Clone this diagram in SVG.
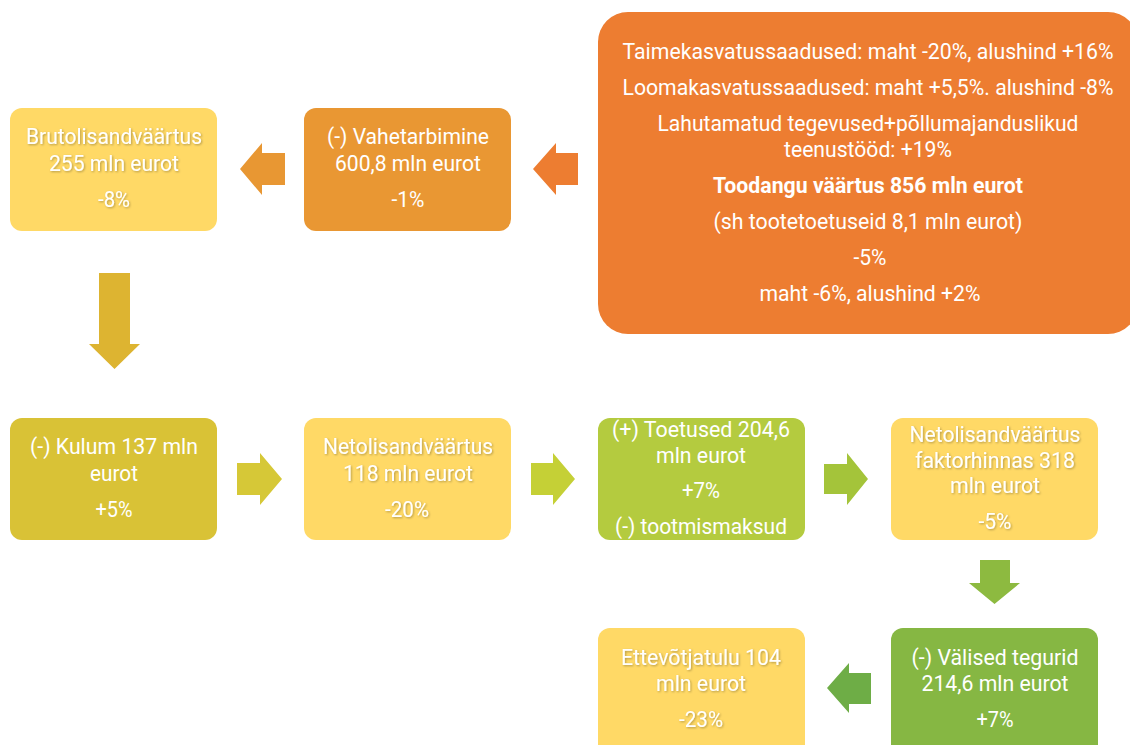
<svg xmlns="http://www.w3.org/2000/svg" width="1130" height="745" viewBox="0 0 1130 745">
<defs>
<filter id="sh" x="-10%" y="-10%" width="120%" height="130%">
<feDropShadow dx="1" dy="1" stdDeviation="0.8" flood-color="#000" flood-opacity="0.3"/>
</filter>
</defs>
<style>
text{font-family:Roboto,"Liberation Sans",sans-serif;font-size:22px;fill:#fff;text-anchor:middle;font-weight:400}
.b{font-weight:700}
.lt text{filter:url(#sh)}
.yl{fill:#FFD966}
</style>
<rect width="1130" height="745" fill="#fff"/>
<g id="connectors">
<polygon points="240,169 262,143 262,153 285,153 285,185 262,185 262,195" fill="#E89733"/>
<polygon points="533,169 556,143 556,153 578,153 578,185 556,185 556,195" fill="#ED7D31"/>
<polygon points="99,273 130,273 130,344 140,344 114.5,369 89,344 99,344" fill="#DDB431"/>
<polygon points="237,463 260,463 260,453 282,479 260,505 260,495 237,495" fill="#D6C837"/>
<polygon points="531,463 553,463 553,453 575,479 553,505 553,495 531,495" fill="#C5D036"/>
<polygon points="824,464 847,464 847,453 868,479 847,505 847,494 824,494" fill="#A4C43A"/>
<polygon points="980,560 1010,560 1010,583 1020,583 994.5,604 969,583 980,583" fill="#8DBA40"/>
<polygon points="827,688 849,663 849,673 871,673 871,704 849,704 849,713" fill="#6EAD46"/>
</g>
<g id="brutolisandvaartus" class="lt">
<rect x="10" y="108" width="207" height="123" rx="12" class="yl"/>
<text x="114" y="144" textLength="176" lengthAdjust="spacingAndGlyphs">Brutolisandväärtus</text>
<text x="114" y="171" textLength="130" lengthAdjust="spacingAndGlyphs">255 mln eurot</text>
<text x="114" y="207" textLength="32" lengthAdjust="spacingAndGlyphs">-8%</text>
</g>
<g id="vahetarbimine">
<rect x="304" y="108" width="207" height="123" rx="12" fill="#E99733"/>
<text x="408" y="144" textLength="162" lengthAdjust="spacingAndGlyphs">(-) Vahetarbimine</text>
<text x="408" y="171" textLength="146" lengthAdjust="spacingAndGlyphs">600,8 mln eurot</text>
<text x="408" y="207" textLength="33" lengthAdjust="spacingAndGlyphs">-1%</text>
</g>
<g id="toodangu">
<rect x="598" y="12" width="540" height="322" rx="30" fill="#ED7D31"/>
<text x="868" y="59" textLength="491" lengthAdjust="spacingAndGlyphs">Taimekasvatussaadused: maht -20%, alushind +16%</text>
<text x="868" y="95" textLength="491" lengthAdjust="spacingAndGlyphs">Loomakasvatussaadused: maht +5,5%. alushind -8%</text>
<text x="868" y="131" textLength="421" lengthAdjust="spacingAndGlyphs">Lahutamatud tegevused+põllumajanduslikud</text>
<text x="868" y="157" textLength="168" lengthAdjust="spacingAndGlyphs">teenustööd: +19%</text>
<text x="868" y="193" class="b" textLength="310" lengthAdjust="spacingAndGlyphs">Toodangu väärtus 856 mln eurot</text>
<text x="868" y="229" textLength="309" lengthAdjust="spacingAndGlyphs">(sh tootetoetuseid 8,1 mln eurot)</text>
<text x="870" y="265" textLength="33" lengthAdjust="spacingAndGlyphs">-5%</text>
<text x="870" y="301" textLength="221" lengthAdjust="spacingAndGlyphs">maht -6%, alushind +2%</text>
</g>
<g id="kulum">
<rect x="10" y="418" width="207" height="122" rx="12" fill="#D9C236"/>
<text x="114" y="454" textLength="168" lengthAdjust="spacingAndGlyphs">(-) Kulum 137 mln</text>
<text x="114" y="481" textLength="48" lengthAdjust="spacingAndGlyphs">eurot</text>
<text x="114" y="517" textLength="37" lengthAdjust="spacingAndGlyphs">+5%</text>
</g>
<g id="netolisandvaartus" class="lt">
<rect x="304" y="418" width="207" height="122" rx="12" class="yl"/>
<text x="408" y="454" textLength="170" lengthAdjust="spacingAndGlyphs">Netolisandväärtus</text>
<text x="408" y="481" textLength="130" lengthAdjust="spacingAndGlyphs">118 mln eurot</text>
<text x="407" y="517" textLength="44" lengthAdjust="spacingAndGlyphs">-20%</text>
</g>
<g id="toetused">
<rect x="598" y="418" width="207" height="122" rx="12" fill="#B4CB3F"/>
<text x="701" y="437" textLength="178" lengthAdjust="spacingAndGlyphs">(+) Toetused 204,6</text>
<text x="701" y="463" textLength="90" lengthAdjust="spacingAndGlyphs">mln eurot</text>
<text x="701" y="498" textLength="38" lengthAdjust="spacingAndGlyphs">+7%</text>
<text x="701" y="534" textLength="172" lengthAdjust="spacingAndGlyphs">(-) tootmismaksud</text>
</g>
<g id="netolisandvaartus-faktorhinnas" class="lt">
<rect x="891" y="418" width="207" height="122" rx="12" class="yl"/>
<text x="995" y="442" textLength="171" lengthAdjust="spacingAndGlyphs">Netolisandväärtus</text>
<text x="995" y="468" textLength="160" lengthAdjust="spacingAndGlyphs">faktorhinnas 318</text>
<text x="995" y="493" textLength="90" lengthAdjust="spacingAndGlyphs">mln eurot</text>
<text x="995" y="529" textLength="33" lengthAdjust="spacingAndGlyphs">-5%</text>
</g>
<g id="valised-tegurid">
<rect x="891" y="628" width="207" height="130" rx="12" fill="#86B743"/>
<text x="995" y="665" textLength="167" lengthAdjust="spacingAndGlyphs">(-) Välised tegurid</text>
<text x="995" y="691" textLength="147" lengthAdjust="spacingAndGlyphs">214,6 mln eurot</text>
<text x="995" y="727" textLength="37" lengthAdjust="spacingAndGlyphs">+7%</text>
</g>
<g id="ettevotjatulu" class="lt">
<rect x="598" y="628" width="207" height="130" rx="12" class="yl"/>
<text x="701" y="665" textLength="160" lengthAdjust="spacingAndGlyphs">Ettevõtjatulu 104</text>
<text x="701" y="691" textLength="90" lengthAdjust="spacingAndGlyphs">mln eurot</text>
<text x="701" y="727" textLength="44" lengthAdjust="spacingAndGlyphs">-23%</text>
</g>
</svg>
